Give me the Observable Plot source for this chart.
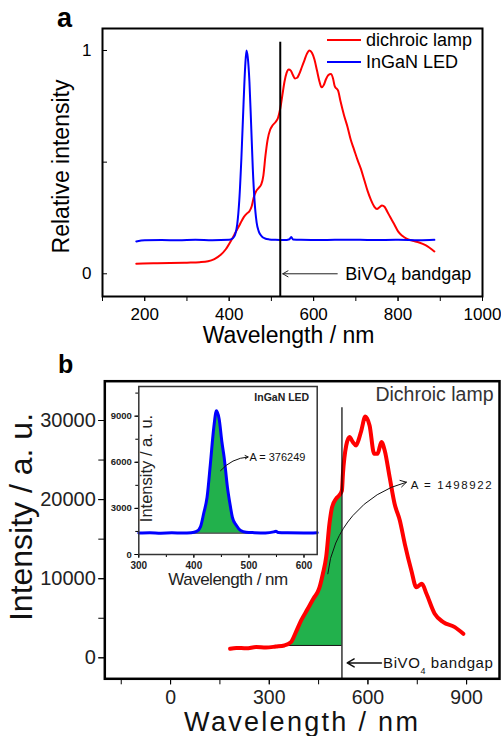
<!DOCTYPE html>
<html><head><meta charset="utf-8">
<script src="https://cdn.jsdelivr.net/npm/d3@7"></script>
<script src="https://cdn.jsdelivr.net/npm/@observablehq/plot@0.6"></script>
<style>
body{margin:0;background:#fff;}
#wrap{position:relative;width:501px;height:736px;overflow:hidden;background:#fff;}
</style></head><body><div id="wrap"></div>
<script>
const FONT = '"Liberation Sans", Arial, Helvetica, sans-serif';

// ---------- Panel a: relative spectra ----------
const lampA_wl = [180,220,260,300,330,350,365,380,392,405,415,425,435,442,448,453,458,464,470,476,481,486,491,497,503,510,516,521,526,531,536,541,546,551,556,561,566,572,578,584,590,596,602,608,614,619,624,629,635,641,646,650,654,658,664,672,680,688,696,704,712,720,728,736,744,750,756,762,768,774,781,790,800,810,820,835,850,865,886];
const lampA_val = [.045,.047,.048,.05,.052,.056,.066,.085,.11,.15,.185,.22,.255,.27,.28,.3,.34,.37,.385,.4,.44,.53,.6,.645,.665,.68,.7,.74,.8,.86,.9,.915,.91,.89,.875,.878,.895,.925,.955,.985,1.0,.99,.96,.91,.86,.835,.845,.87,.89,.895,.875,.84,.83,.82,.77,.71,.66,.6,.555,.51,.47,.42,.37,.33,.3,.29,.298,.306,.3,.28,.255,.225,.19,.17,.157,.148,.14,.128,.1];
const ledA_wl = [180,200,240,280,320,360,400,408,414,419,424,429,434,438,441,444,448,452,456,460,465,470,477,485,495,510,530,543,547,551,570,620,680,740,800,850,886];
const ledA_val = [.145,.15,.151,.15,.152,.15,.152,.158,.175,.22,.33,.52,.76,.93,1.0,.97,.86,.67,.47,.33,.23,.19,.168,.158,.154,.152,.151,.155,.165,.154,.152,.151,.153,.151,.152,.15,.152];
const seriesNamesA = ["dichroic lamp", "InGaN LED"];
const bandgapNm = 521;
const aXMajor = [200,400,600,800,1000];
const aXMinor = [100,200,300,400,500,600,700,800,900,1000];
const aYMajor = [0,1];
const aYTicks = [0,0.5,1];

// ---------- Panel b: dichroic lamp spectrum ----------
const lampB_wl = [181,200,230,260,290,320,346,366,381,397,417,437,447,453,463,473,483,491,503,512,519,521,524,534,544,554,564,572,580,592,605,619,629,641,651,666,681,697,712,732,747,764,778,803,829,864,890];
const lampB_val = [1140,1250,1200,1350,1300,1420,1560,1980,3245,4720,6190,7670,8300,8930,10620,12730,16940,19050,20100,20500,20940,21200,23260,26840,27900,27270,26840,27600,28740,30510,29370,25790,25790,27270,26210,22840,19470,17360,14410,11040,8930,9360,8090,5560,4510,3880,3030];
const baseB = 1560;
const bXMajor = [0,300,600,900];
const bXMinor = [-150,0,150,300,450,600,750,900];
const bYMajor = [0,10000,20000,30000];
const bYMinor = [0,5000,10000,15000,20000,25000,30000];
const areaLabelB = "A = 1498922";

// ---------- Inset: InGaN LED spectrum ----------
const ledI_wl = [300,320,340,360,380,395,405,412,418,424,430,436,441,446,451,455,461,466,470,477,485,495,510,530,545,549,553,570,600,624];
const ledI_val = [1400,1420,1390,1410,1400,1420,1500,1800,2700,3720,5890,8200,9350,8800,7300,6320,4370,3200,2420,1900,1560,1450,1420,1400,1470,1520,1430,1410,1400,1420];
const baseI = 1390;
const iXMajor = [300,400,500,600];
const iXMinor = [300,350,400,450,500,550,600];
const iYMajor = [0,3000,6000,9000];
const iYMinor = [0,1500,3000,4500,6000,7500,9000,10500];
const areaLabelI = "A = 376249";

const toRows = (xs, ys) => xs.map((x, i) => ({x, y: ys[i]}));
const lampA = toRows(lampA_wl, lampA_val);
const ledA = toRows(ledA_wl, ledA_val);
const lampB = toRows(lampB_wl, lampB_val);
const ledI = toRows(ledI_wl, ledI_val);

function fixText(svg, content, fn) {
  d3.select(svg).selectAll("text").filter(function(){ return this.textContent === content; }).each(function(){ fn(d3.select(this)); });
}
function subscript(t, big, sub, rest, shift, subSize) {
  t.text(null);
  t.append("tspan").text(big);
  t.append("tspan").attr("dy", shift).attr("font-size", subSize).text(sub);
  t.append("tspan").attr("dy", -shift).text(rest);
}

const wrap = document.getElementById("wrap");

// ---- Panel a ----
const yA = [-0.1017, 1.0985];
const pa = Plot.plot({
  width: 501, height: 350,
  marginLeft: 102, marginRight: 19, marginTop: 28, marginBottom: 54,
  x: {domain: [100, 1000]}, y: {domain: yA},
  style: {fontFamily: FONT, background: "none", color: "#000", overflow: "visible"},
  marks: [
    Plot.line(lampA, {x: "x", y: "y", stroke: "#ff0000", strokeWidth: 2, curve: "monotone-x"}),
    Plot.line(ledA, {x: "x", y: "y", stroke: "#0000ff", strokeWidth: 2, curve: "monotone-x"}),
    Plot.ruleX([bandgapNm], {y1: 1.037, y2: yA[0], stroke: "#000", strokeWidth: 2}),
    Plot.arrow([{x1: 656, x2: 527, y: 0}], {x1: "x1", x2: "x2", y1: "y", y2: "y", stroke: "#222", strokeWidth: 1, headLength: 9}),
    Plot.text(["BiVO4 bandgap"], {text: d => d, x: 675, y: 0, textAnchor: "start", fontSize: 18, fill: "#000"}),
    Plot.axisX(aXMinor, {tickSize: 5, tickFormat: () => "", label: null}),
    Plot.axisX(aXMajor, {tickSize: 5, tickPadding: 6, fontSize: 17, tickFormat: d => String(d), label: null}),
    Plot.axisY(aYMajor, {tickSize: 0, tickPadding: 11, fontSize: 17, tickFormat: d => String(d), label: null}),
    Plot.tickY(aYTicks, {y: d => d, insetRight: 375, stroke: "#000"}),
    Plot.frame({stroke: "#000", strokeWidth: 2}),
    Plot.text(["Wavelength / nm"], {text: d => d, frameAnchor: "bottom", textAnchor: "middle", dy: 30, dx: -4, lineAnchor: "top", fontSize: 23}),
    Plot.text(["Relative intensity"], {text: d => d, frameAnchor: "left", textAnchor: "middle", rotate: -90, dx: -40.5, dy: 4, fontSize: 23})
  ]
});
fixText(pa, "BiVO4 bandgap", t => subscript(t, "BiVO", "4", " bandgap", 5, "16px"));
pa.style.position = "absolute"; pa.style.left = "0px"; pa.style.top = "0px";
wrap.appendChild(pa);

// ---- Panel b ----
const yB = [-2655, 34970];
const pb = Plot.plot({
  width: 501, height: 386,
  marginLeft: 104.3, marginRight: 2, marginTop: 30.7, marginBottom: 57.7,
  x: {domain: [-200, 1000]}, y: {domain: yB},
  style: {fontFamily: FONT, background: "none", color: "#000", overflow: "visible"},
  marks: [
    Plot.areaY(lampB.filter(d => d.x >= 346 && d.x <= bandgapNm), {x: "x", y1: baseB, y2: "y", fill: "#22b14c", curve: "monotone-x"}),
    Plot.ruleY([baseB], {x1: 315, x2: bandgapNm, stroke: "#111", strokeWidth: 1}),
    Plot.line(lampB, {x: "x", y: "y", stroke: "#ff0000", strokeWidth: 4, curve: "monotone-x", strokeLinejoin: "round"}),
    Plot.ruleX([bandgapNm], {y1: 31600, y2: yB[0], stroke: "#000", strokeWidth: 1.2}),
    Plot.arrow([{x1: 478, y1: 10620, x2: 717, y2: 22200}], {x1: "x1", y1: "y1", x2: "x2", y2: "y2", bend: 35, stroke: "#111", strokeWidth: 1, headLength: 10}),
    Plot.text([areaLabelB], {text: d => d, x: 730, y: 21780, textAnchor: "start", fontSize: 11.5, fill: "#111"}),
    Plot.arrow([{x1: 641, x2: 537, y: -650}], {x1: "x1", x2: "x2", y1: "y", y2: "y", stroke: "#111", strokeWidth: 1.5, headLength: 8}),
    Plot.text(["BiVO4 bandgap"], {text: d => d, x: 646, y: -720, textAnchor: "start", fontSize: 15, fill: "#111"}),
    Plot.text(["Dichroic lamp"], {text: d => d, frameAnchor: "top-right", dx: -6, dy: 6, lineAnchor: "top", fontSize: 19.5, fill: "#333"}),
    Plot.axisX(bXMinor, {tickSize: 6, tickFormat: () => "", label: null}),
    Plot.axisX(bXMajor, {tickSize: 6, tickPadding: 5, fontSize: 19.5, fill: "#222", tickFormat: d => String(d), label: null}),
    Plot.axisY(bYMinor, {tickSize: 6, tickFormat: () => "", label: null}),
    Plot.axisY(bYMajor, {tickSize: 6, tickPadding: 3, fontSize: 20, fill: "#222", tickFormat: d => String(d), label: null}),
    Plot.frame({stroke: "#000", strokeWidth: 2.5}),
    Plot.text(["Wavelength / nm"], {text: d => d, frameAnchor: "bottom", textAnchor: "middle", dy: 33, lineAnchor: "top", fontSize: 27, fill: "#111"}),
    Plot.text(["Intensity / a. u."], {text: d => d, frameAnchor: "left", textAnchor: "middle", rotate: -90, dx: -83, dy: -13, fontSize: 32, fill: "#111"})
  ]
});
fixText(pb, "Wavelength / nm", t => t.attr("letter-spacing", "2.3px"));
fixText(pb, areaLabelB, t => t.attr("letter-spacing", "1.6px"));
fixText(pb, "BiVO4 bandgap", t => { t.attr("letter-spacing", "0.6px"); subscript(t, "BiVO", "4", " bandgap", 6, "9px"); });
pb.style.position = "absolute"; pb.style.left = "0px"; pb.style.top = "350px";
wrap.appendChild(pb);

// ---- Inset ----
const pi = Plot.plot({
  width: 225, height: 220,
  marginLeft: 38.3, marginRight: 8.3, marginTop: 16, marginBottom: 36,
  x: {domain: [300, 624]}, y: {domain: [0, 10930]},
  style: {fontFamily: FONT, background: "none", color: "#000", overflow: "visible"},
  marks: [
    Plot.areaY(ledI.filter(d => d.x >= 395 && d.x <= 515), {x: "x", y1: baseI, y2: "y", fill: "#22b14c", curve: "monotone-x"}),
    Plot.ruleY([baseI], {x1: 397, x2: 515, stroke: "#111", strokeWidth: 1}),
    Plot.line(ledI, {x: "x", y: "y", stroke: "#0000ff", strokeWidth: 3, curve: "monotone-x", strokeLinejoin: "round"}),
    Plot.arrow([{x1: 448.5, y1: 5455, x2: 498.5, y2: 6345}], {x1: "x1", y1: "y1", x2: "x2", y2: "y2", bend: 22, stroke: "#111", strokeWidth: 1, headLength: 5}),
    Plot.text([areaLabelI], {text: d => d, x: 501, y: 6345, textAnchor: "start", fontSize: 11, fill: "#111"}),
    Plot.text(["InGaN LED"], {text: d => d, frameAnchor: "top-right", dx: -8, dy: 7.3, lineAnchor: "top", fontSize: 10.5, fontWeight: "bold", fill: "#222"}),
    Plot.axisX(iXMinor, {tickSize: 3, tickFormat: () => "", label: null}),
    Plot.axisX(iXMajor, {tickSize: 4, tickPadding: 3, fontSize: 10, fontWeight: "bold", fill: "#222", tickFormat: d => String(d), label: null}),
    Plot.axisY(iYMinor, {tickSize: 3, tickFormat: () => "", label: null}),
    Plot.axisY(iYMajor, {tickSize: 4, tickPadding: 3, fontSize: 9.5, fontWeight: "bold", fill: "#222", tickFormat: d => String(d), label: null}),
    Plot.frame({stroke: "#333", strokeWidth: 1.5}),
    Plot.text(["Wavelength / nm"], {text: d => d, frameAnchor: "bottom", textAnchor: "middle", dy: 18, lineAnchor: "top", fontSize: 17, fill: "#222"}),
    Plot.text(["Intensity / a. u."], {text: d => d, frameAnchor: "left", textAnchor: "middle", rotate: -90, dx: 7.7, dy: -2, fontSize: 16.5, fill: "#222"})
  ]
});
fixText(pi, "Wavelength / nm", t => t.attr("letter-spacing", "-0.5px"));
pi.style.position = "absolute"; pi.style.left = "100px"; pi.style.top = "370px";
wrap.appendChild(pi);

// ---- Legend and panel letters (overlay) ----
const ov = d3.create("svg").attr("width", 501).attr("height", 736)
  .style("position", "absolute").style("left", "0px").style("top", "0px").style("pointer-events", "none")
  .style("font-family", FONT);
const legColors = ["#ff0000", "#0000ff"];
seriesNamesA.forEach((name, i) => {
  const y = [40, 62][i];
  ov.append("line").attr("x1", 327).attr("x2", 361).attr("y1", y).attr("y2", y).attr("stroke", legColors[i]).attr("stroke-width", 2);
  ov.append("text").attr("x", 366).attr("y", y + 6).attr("font-size", 18).text(name);
});
ov.append("text").attr("x", 57).attr("y", 27).attr("font-size", 27).attr("font-weight", "bold").text("a");
ov.append("text").attr("x", 58).attr("y", 373).attr("font-size", 25).attr("font-weight", "bold").text("b");
wrap.appendChild(ov.node());
</script></body></html>
